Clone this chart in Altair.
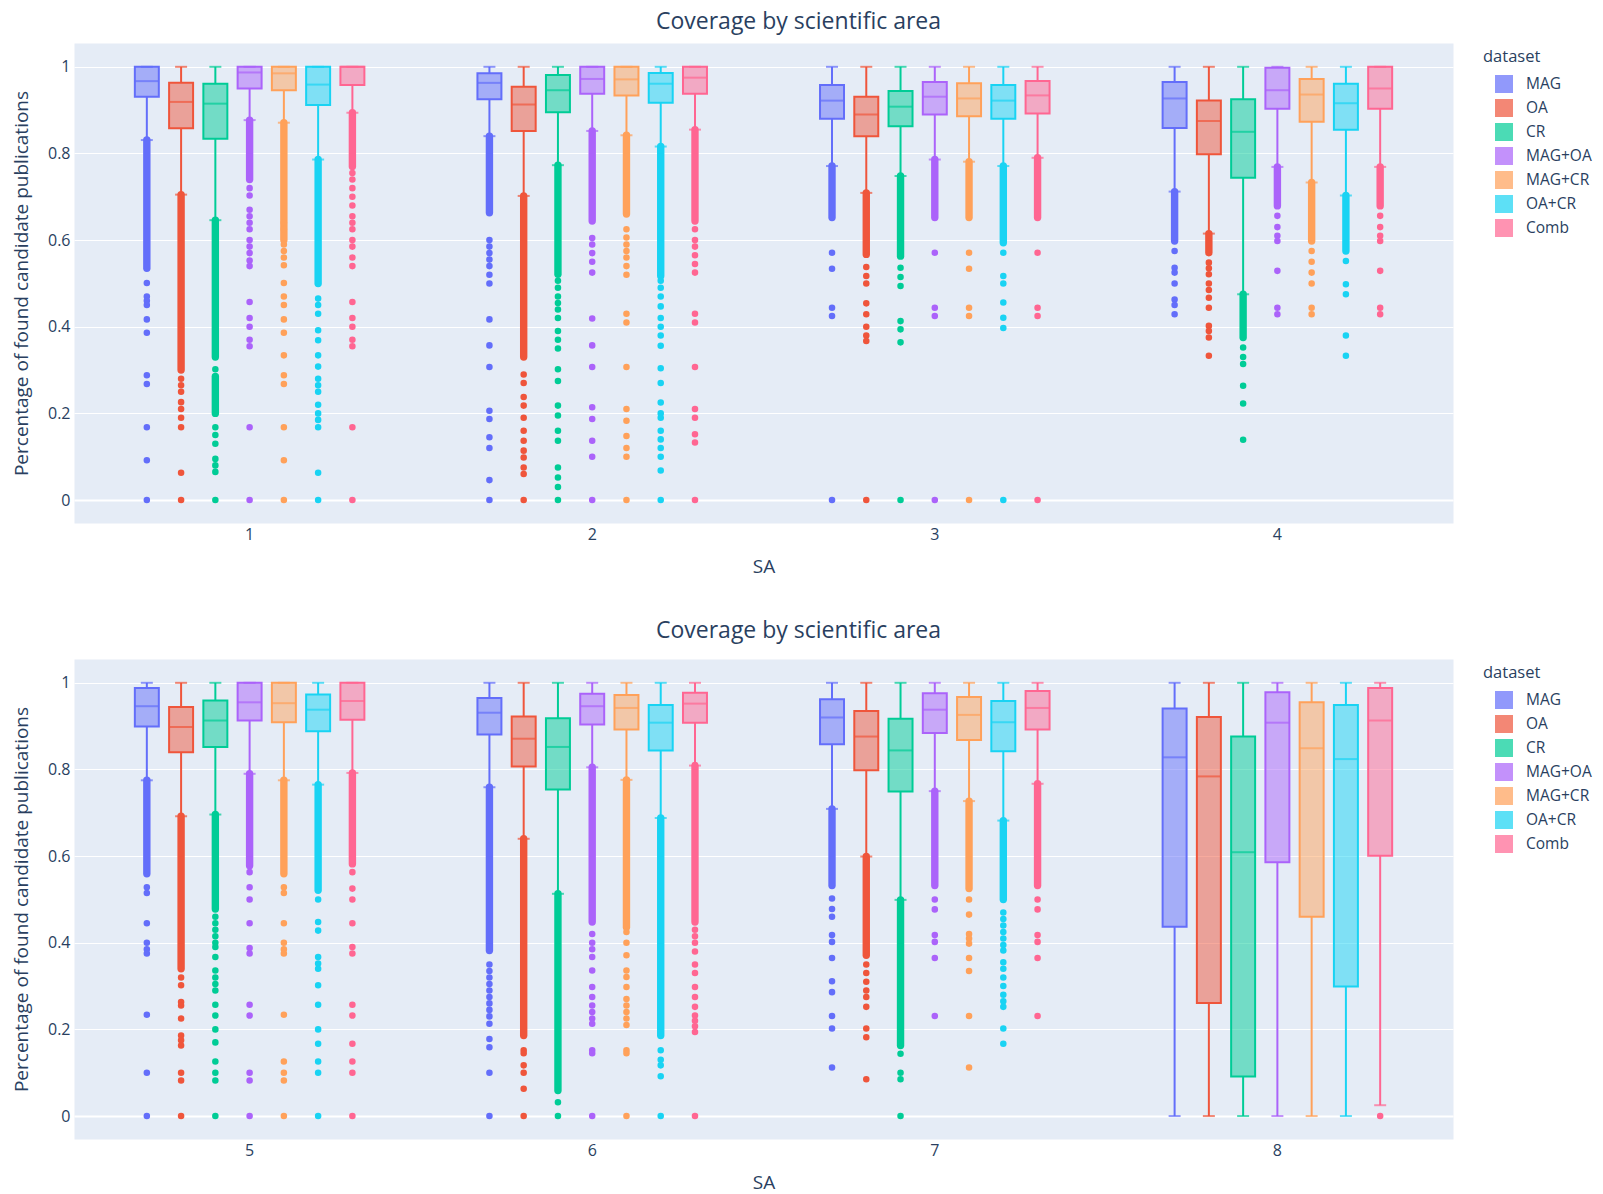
import altair as alt
import pandas as pd

SA = ["1", "2", "3", "4", "5", "6", "7", "8"]
DATASETS = ["MAG", "OA", "CR", "MAG+OA", "MAG+CR", "OA+CR", "Comb"]
COLORS = ["#636EFA", "#EF553B", "#00CC96", "#AB63FA", "#FFA15A", "#19D3F3", "#FF6692"]

# rows = SA 1..8, columns = datasets (MAG, OA, CR, MAG+OA, MAG+CR, OA+CR, Comb)
LOWER = [
    [0.831, 0.705, 0.646, 0.877, 0.871, 0.786, 0.894],
    [0.840, 0.702, 0.773, 0.852, 0.842, 0.816, 0.855],
    [0.771, 0.709, 0.748, 0.786, 0.781, 0.771, 0.790],
    [0.712, 0.615, 0.475, 0.769, 0.733, 0.703, 0.769],
    [0.775, 0.692, 0.696, 0.790, 0.775, 0.765, 0.792],
    [0.759, 0.640, 0.513, 0.805, 0.776, 0.688, 0.809],
    [0.709, 0.599, 0.499, 0.750, 0.727, 0.682, 0.767],
    [0.0, 0.0, 0.0, 0.0, 0.0, 0.0, 0.025],
]
Q1 = [
    [0.931, 0.858, 0.834, 0.950, 0.946, 0.912, 0.958],
    [0.925, 0.852, 0.895, 0.938, 0.934, 0.917, 0.938],
    [0.880, 0.840, 0.863, 0.890, 0.886, 0.880, 0.892],
    [0.859, 0.798, 0.744, 0.903, 0.873, 0.855, 0.903],
    [0.899, 0.840, 0.852, 0.913, 0.909, 0.888, 0.915],
    [0.881, 0.807, 0.754, 0.904, 0.892, 0.844, 0.908],
    [0.858, 0.798, 0.749, 0.884, 0.868, 0.842, 0.892],
    [0.437, 0.261, 0.091, 0.586, 0.460, 0.299, 0.601],
]
MEDIAN = [
    [0.967, 0.919, 0.915, 0.987, 0.985, 0.959, 1.0],
    [0.963, 0.913, 0.946, 0.972, 0.971, 0.961, 0.975],
    [0.922, 0.890, 0.908, 0.931, 0.927, 0.922, 0.934],
    [0.927, 0.875, 0.850, 0.946, 0.936, 0.916, 0.950],
    [0.946, 0.898, 0.913, 0.955, 0.953, 0.938, 0.958],
    [0.931, 0.871, 0.852, 0.946, 0.942, 0.908, 0.952],
    [0.920, 0.876, 0.844, 0.938, 0.926, 0.909, 0.942],
    [0.828, 0.784, 0.609, 0.908, 0.849, 0.824, 0.913],
]
Q3 = [
    [1.0, 0.963, 0.961, 1.0, 1.0, 1.0, 1.0],
    [0.985, 0.954, 0.981, 1.0, 1.0, 0.986, 1.0],
    [0.958, 0.931, 0.944, 0.965, 0.962, 0.958, 0.967],
    [0.965, 0.922, 0.925, 0.998, 0.972, 0.961, 1.0],
    [0.988, 0.944, 0.959, 1.0, 1.0, 0.973, 1.0],
    [0.965, 0.922, 0.918, 0.975, 0.972, 0.949, 0.977],
    [0.962, 0.935, 0.917, 0.976, 0.967, 0.958, 0.981],
    [0.941, 0.921, 0.876, 0.978, 0.955, 0.949, 0.988],
]
UPPER = [[1.0] * 7 for _ in SA]

# dense runs of outliers: (top, bottom) per SA, per dataset
DENSE = {
    "1": [[(0.831, 0.535)], [(0.705, 0.30)], [(0.646, 0.33), (0.285, 0.20)], [(0.877, 0.74)],
          [(0.871, 0.60)], [(0.786, 0.50)], [(0.894, 0.77)]],
    "2": [[(0.840, 0.663)], [(0.702, 0.33)], [(0.773, 0.521)], [(0.852, 0.644)],
          [(0.842, 0.66)], [(0.816, 0.517)], [(0.855, 0.644)]],
    "3": [[(0.771, 0.652)], [(0.709, 0.567)], [(0.748, 0.563)], [(0.786, 0.652)],
          [(0.781, 0.652)], [(0.771, 0.594)], [(0.790, 0.652)]],
    "4": [[(0.712, 0.598)], [(0.615, 0.571)], [(0.475, 0.375)], [(0.769, 0.679)],
          [(0.733, 0.598)], [(0.703, 0.575)], [(0.769, 0.679)]],
    "5": [[(0.775, 0.559)], [(0.692, 0.34)], [(0.696, 0.478)], [(0.790, 0.578)],
          [(0.775, 0.559)], [(0.765, 0.521)], [(0.792, 0.582)]],
    "6": [[(0.759, 0.382)], [(0.640, 0.186)], [(0.513, 0.059)], [(0.805, 0.448)],
          [(0.776, 0.436)], [(0.688, 0.186)], [(0.809, 0.448)]],
    "7": [[(0.709, 0.532)], [(0.599, 0.371)], [(0.499, 0.163)], [(0.750, 0.532)],
          [(0.727, 0.525)], [(0.682, 0.50)], [(0.767, 0.532)]],
    "8": [[], [], [], [], [], [], []],
}

# isolated outliers per SA, per dataset
POINTS = {
    "1": [
        [0.501, 0.47, 0.46, 0.45, 0.417, 0.386, 0.288, 0.268, 0.168, 0.092, 0.0],
        [0.28, 0.265, 0.25, 0.226, 0.21, 0.19, 0.168, 0.063, 0.0],
        [0.302, 0.168, 0.15, 0.13, 0.095, 0.08, 0.065, 0.0],
        [0.72, 0.703, 0.67, 0.655, 0.64, 0.625, 0.60, 0.585, 0.57, 0.553, 0.54, 0.457, 0.42, 0.40, 0.37, 0.355, 0.168, 0.0],
        [0.64, 0.625, 0.59, 0.575, 0.56, 0.542, 0.501, 0.47, 0.45, 0.417, 0.386, 0.334, 0.288, 0.268, 0.168, 0.092, 0.0],
        [0.465, 0.45, 0.43, 0.392, 0.369, 0.334, 0.308, 0.28, 0.265, 0.25, 0.22, 0.2, 0.185, 0.168, 0.063, 0.0],
        [0.755, 0.74, 0.72, 0.70, 0.68, 0.655, 0.64, 0.625, 0.60, 0.585, 0.56, 0.54, 0.457, 0.42, 0.40, 0.37, 0.355, 0.168, 0.0],
    ],
    "2": [
        [0.60, 0.585, 0.57, 0.555, 0.54, 0.52, 0.50, 0.417, 0.357, 0.307, 0.206, 0.187, 0.145, 0.12, 0.046, 0.0],
        [0.29, 0.27, 0.238, 0.218, 0.19, 0.16, 0.137, 0.114, 0.098, 0.075, 0.06, 0.0],
        [0.506, 0.49, 0.47, 0.455, 0.44, 0.42, 0.39, 0.37, 0.35, 0.302, 0.275, 0.218, 0.195, 0.16, 0.137, 0.075, 0.052, 0.03, 0.0],
        [0.605, 0.59, 0.57, 0.55, 0.525, 0.419, 0.357, 0.307, 0.214, 0.187, 0.137, 0.10, 0.0],
        [0.625, 0.606, 0.59, 0.575, 0.56, 0.54, 0.52, 0.43, 0.41, 0.307, 0.21, 0.183, 0.148, 0.12, 0.10, 0.0],
        [0.506, 0.49, 0.47, 0.447, 0.42, 0.40, 0.38, 0.356, 0.304, 0.27, 0.225, 0.2, 0.19, 0.16, 0.14, 0.12, 0.10, 0.068, 0.0],
        [0.625, 0.60, 0.585, 0.565, 0.545, 0.525, 0.43, 0.41, 0.307, 0.21, 0.19, 0.152, 0.133, 0.0],
    ],
    "3": [
        [0.571, 0.534, 0.444, 0.425, 0.0],
        [0.538, 0.517, 0.50, 0.454, 0.429, 0.40, 0.38, 0.367, 0.0],
        [0.536, 0.515, 0.494, 0.413, 0.394, 0.364, 0.0],
        [0.571, 0.444, 0.425, 0.0],
        [0.571, 0.534, 0.444, 0.425, 0.0],
        [0.571, 0.517, 0.50, 0.456, 0.421, 0.397, 0.0],
        [0.571, 0.444, 0.425, 0.0],
    ],
    "4": [
        [0.575, 0.536, 0.525, 0.50, 0.463, 0.45, 0.429],
        [0.548, 0.535, 0.521, 0.50, 0.485, 0.467, 0.444, 0.402, 0.39, 0.375, 0.333],
        [0.352, 0.33, 0.314, 0.264, 0.223, 0.139],
        [0.656, 0.63, 0.61, 0.598, 0.529, 0.444, 0.429],
        [0.575, 0.55, 0.525, 0.50, 0.444, 0.429],
        [0.552, 0.498, 0.475, 0.38, 0.333],
        [0.656, 0.63, 0.61, 0.598, 0.529, 0.444, 0.429],
    ],
    "5": [
        [0.528, 0.515, 0.445, 0.40, 0.385, 0.375, 0.234, 0.10, 0.0],
        [0.32, 0.302, 0.263, 0.255, 0.225, 0.186, 0.175, 0.163, 0.10, 0.082, 0.0],
        [0.46, 0.445, 0.43, 0.415, 0.40, 0.39, 0.367, 0.336, 0.32, 0.305, 0.29, 0.257, 0.232, 0.2, 0.17, 0.126, 0.10, 0.082, 0.0],
        [0.563, 0.528, 0.50, 0.445, 0.388, 0.375, 0.257, 0.232, 0.10, 0.082, 0.0],
        [0.528, 0.515, 0.445, 0.40, 0.385, 0.375, 0.234, 0.126, 0.10, 0.082, 0.0],
        [0.50, 0.448, 0.428, 0.367, 0.352, 0.34, 0.302, 0.257, 0.20, 0.167, 0.126, 0.10, 0.0],
        [0.563, 0.525, 0.50, 0.445, 0.39, 0.375, 0.257, 0.232, 0.167, 0.126, 0.10, 0.0],
    ],
    "6": [
        [0.35, 0.335, 0.32, 0.305, 0.29, 0.275, 0.26, 0.245, 0.23, 0.213, 0.178, 0.159, 0.10, 0.0],
        [0.152, 0.145, 0.117, 0.10, 0.063, 0.0],
        [0.032, 0.0],
        [0.42, 0.40, 0.385, 0.367, 0.336, 0.298, 0.275, 0.255, 0.24, 0.225, 0.213, 0.152, 0.145, 0.0],
        [0.425, 0.40, 0.371, 0.336, 0.321, 0.298, 0.27, 0.255, 0.24, 0.225, 0.21, 0.152, 0.145, 0.0],
        [0.152, 0.13, 0.117, 0.092, 0.0],
        [0.43, 0.415, 0.40, 0.38, 0.35, 0.33, 0.298, 0.275, 0.252, 0.232, 0.22, 0.207, 0.194, 0.0],
    ],
    "7": [
        [0.502, 0.478, 0.46, 0.418, 0.402, 0.365, 0.311, 0.286, 0.231, 0.202, 0.112],
        [0.35, 0.33, 0.31, 0.29, 0.275, 0.252, 0.202, 0.182, 0.085],
        [0.144, 0.10, 0.085, 0.0],
        [0.50, 0.477, 0.418, 0.402, 0.365, 0.231],
        [0.50, 0.465, 0.42, 0.41, 0.398, 0.365, 0.335, 0.231, 0.112],
        [0.47, 0.455, 0.44, 0.425, 0.41, 0.395, 0.382, 0.355, 0.34, 0.32, 0.30, 0.28, 0.265, 0.252, 0.202, 0.167],
        [0.50, 0.477, 0.418, 0.402, 0.365, 0.231],
    ],
    "8": [[], [], [], [], [], [], [0.0]],
}

TXT = "#2a3f5f"
FONT = "Open Sans"

box_rows, cap_rows, dense_rows, point_rows = [], [], [], []
for i, s in enumerate(SA):
    for j, d in enumerate(DATASETS):
        box_rows.append(dict(sa=s, dataset=d, lower=LOWER[i][j], q1=Q1[i][j],
                             median=MEDIAN[i][j], q3=Q3[i][j], upper=UPPER[i][j]))
        cap_rows.append(dict(sa=s, dataset=d, v=LOWER[i][j]))
        cap_rows.append(dict(sa=s, dataset=d, v=UPPER[i][j]))
        for hi, lo in DENSE[s][j]:
            dense_rows.append(dict(sa=s, dataset=d, hi=hi, lo=lo))
        for v in POINTS[s][j]:
            point_rows.append(dict(sa=s, dataset=d, v=v))

box_df = pd.DataFrame(box_rows)
cap_df = pd.DataFrame(cap_rows)
dense_df = pd.DataFrame(dense_rows)
point_df = pd.DataFrame(point_rows)

YTITLE = "Percentage of found candidate publications"
# offset slots: one empty slot at each end reproduces the gap between groups
OFFSET_DOMAIN = ["_gap_left"] + DATASETS + ["_gap_right"]


def panel(sas, title_offset):
    xs = alt.X("sa:N", scale=alt.Scale(domain=sas, paddingInner=0, paddingOuter=0.0126),
               axis=alt.Axis(title="SA", labelAngle=0, labelFontSize=16, labelColor=TXT,
                             labelPadding=3, labelFont=FONT, titleFont=FONT,
                             titleFontSize=19, titleColor=TXT, titleFontWeight="normal",
                             titlePadding=15, ticks=False, domain=False, grid=False))
    xo = alt.XOffset("dataset:N", scale=alt.Scale(domain=OFFSET_DOMAIN, paddingInner=0.3, paddingOuter=0.65))
    ysc = alt.Scale(domain=[-0.053, 1.055], nice=False, zero=False)
    yax = alt.Axis(title=YTITLE, values=[0, 0.2, 0.4, 0.6, 0.8, 1], format="~g",
                   labelFontSize=16, labelColor=TXT, labelFont=FONT, labelPadding=4,
                   titleFont=FONT, titleFontSize=19, titleColor=TXT, titleFontWeight="normal",
                   titlePadding=16, ticks=False, domain=False, grid=True, gridColor="white",
                   gridWidth=alt.condition("datum.value === 0", alt.value(2), alt.value(1)))
    fsc = alt.Scale(domain=DATASETS, range=COLORS)
    leg = alt.Legend(title="dataset", orient="right", offset=30, padding=0,
                     titleFont=FONT, titleFontSize=16.5, titleColor=TXT, titleFontWeight="normal",
                     titleBaseline="line-top", titleLineHeight=28.5, titlePadding=15.5,
                     labelFont=FONT, labelFontSize=15.5, labelColor=TXT,
                     symbolType="square", symbolSize=256, symbolStrokeWidth=2,
                     symbolOffset=12, labelOffset=13, rowPadding=0)

    bsel = box_df[box_df.sa.isin(sas)]
    csel = cap_df[cap_df.sa.isin(sas)]
    dsel = dense_df[dense_df.sa.isin(sas)]
    psel = point_df[point_df.sa.isin(sas)]

    fill = alt.Fill("dataset:N", scale=fsc, legend=leg)
    stroke = alt.Stroke("dataset:N", scale=fsc, legend=leg)

    base_b = alt.Chart(bsel)
    boxes = base_b.mark_bar(fillOpacity=0.5, strokeWidth=2).encode(
        x=xs, xOffset=xo, y=alt.Y("q1:Q", scale=ysc, axis=yax), y2="q3:Q",
        fill=fill, stroke=stroke)
    whisk_lo = base_b.mark_rule(strokeWidth=2).encode(
        x=xs, xOffset=xo, y=alt.Y("lower:Q", scale=ysc, axis=yax), y2="q1:Q", stroke=stroke)
    whisk_hi = base_b.mark_rule(strokeWidth=2).encode(
        x=xs, xOffset=xo, y=alt.Y("q3:Q", scale=ysc, axis=yax), y2="upper:Q", stroke=stroke)
    med = base_b.mark_tick(size=24, thickness=2).encode(
        x=xs, xOffset=xo, y=alt.Y("median:Q", scale=ysc, axis=yax), fill=fill)
    caps = alt.Chart(csel).mark_tick(size=12, thickness=2).encode(
        x=xs, xOffset=xo, y=alt.Y("v:Q", scale=ysc, axis=yax), fill=fill)
    dense = alt.Chart(dsel).mark_rule(strokeWidth=7.4, strokeCap="round").encode(
        x=xs, xOffset=xo, y=alt.Y("hi:Q", scale=ysc, axis=yax), y2="lo:Q", stroke=stroke)
    pts = alt.Chart(psel).mark_circle(size=43, opacity=1).encode(
        x=xs, xOffset=xo, y=alt.Y("v:Q", scale=ysc, axis=yax), fill=fill)

    return alt.layer(boxes, whisk_lo, whisk_hi, med, caps, dense, pts).properties(
        width=1379, height=480,
        title=alt.TitleParams("Coverage by scientific area", font=FONT, fontSize=23,
                              fontWeight="normal", color=TXT, anchor="middle",
                              baseline="alphabetic", offset=title_offset, dx=35))


chart = alt.vconcat(panel(SA[:4], -8.5), panel(SA[4:], -2), spacing=42).resolve_scale(
    x="independent", y="independent", fill="independent", stroke="independent"
).resolve_legend(fill="independent", stroke="independent").properties(
    padding={"left": 4, "top": 2, "right": 0, "bottom": 0}, background="white"
).configure_view(fill="#E5ECF6", stroke="transparent")

chart.save("out.html", embed_options={"renderer": "svg", "actions": False})
